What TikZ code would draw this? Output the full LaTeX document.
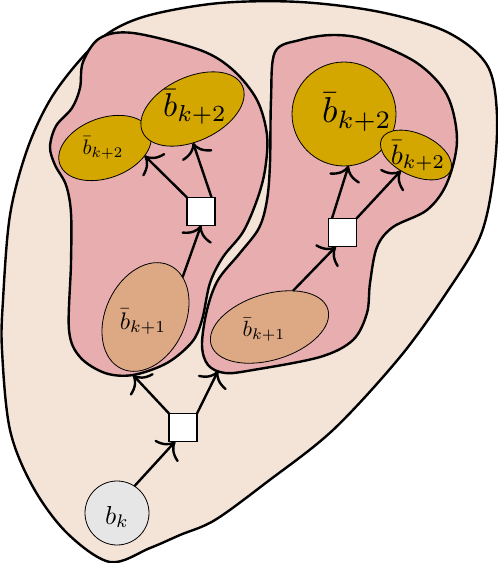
\documentclass[tikz,border=0pt]{standalone}
\usepackage{tikz}
\usetikzlibrary{arrows.meta,shapes.geometric}
\definecolor{outerbg}{HTML}{F4E3D7}
\definecolor{pinkbg}{HTML}{E8AEAF}
\definecolor{goldbg}{HTML}{D4A600}
\definecolor{orangebg}{HTML}{DDA884}
\definecolor{greybg}{HTML}{E6E6E6}
\tikzset{
  region/.style={draw,line width=2.4pt,line join=round},
  belief/.style={draw,ellipse,line width=0.8pt,inner sep=0pt,outer sep=0pt},
  factor/.style={draw,rectangle,fill=white,line width=1.6pt,minimum size=28,inner sep=0pt,outer sep=0pt},
  lab/.style={scale=#1/10,inner sep=0pt},
  arr/.style={line width=2.4pt,-{Computer Modern Rightarrow[length=14pt,width=32pt]}},
}
\begin{document}
\begin{tikzpicture}[x=1pt,y=-1pt]
\useasboundingbox (0,0) rectangle (498,563);
\draw[region,fill=outerbg] plot[smooth cycle,tension=0.55] coordinates {(110,32) (150,15) (220,3) (300,2) (380,12) (447,32) (487,65) (497,115) (493,180) (480,237) (447,292) (400,357) (333,430) (267,482) (215,520) (180,535) (150,548) (110,562) (67,533) (33,487) (10,430) (2,350) (3,300) (10,215) (27,150) (50,100) (80,60)};
\draw[region,fill=pinkbg] plot[smooth cycle,tension=0.55] coordinates {(100,38) (133,33) (200,50) (233,70) (257,100) (267,135) (265,170) (257,200) (243,232) (223,257) (210,283) (202,320) (192,342) (167,363) (133,375) (105,373) (80,357) (69,330) (71,263) (71,213) (66,185) (55,165) (50,147) (56,126) (72,108) (80,88) (83,62)};
\draw[region,fill=pinkbg] plot[smooth cycle,tension=0.55] coordinates {(275,52) (300,40) (333,35) (367,40) (417,63) (447,95) (457,140) (447,183) (427,210) (393,227) (377,247) (370,283) (367,313) (353,340) (320,357) (253,370) (225,373) (208,365) (202,345) (207,310) (218,280) (240,253) (259,228) (267,200) (270,163) (271,100)};
\coordinate (inL) at (133,375);
\coordinate (inR) at (218,371);
\node[belief,fill=goldbg,rotate=20,minimum width=96,minimum height=60] (gL2) at (105,148) {};
\node[belief,fill=goldbg,rotate=25,minimum width=110,minimum height=64] (gL1) at (192.5,109) {};
\node[belief,circle,fill=goldbg,minimum size=104] (gR1) at (344,114) {};
\node[belief,fill=goldbg,rotate=-25,minimum width=76,minimum height=42] (gR2) at (416,155) {};
\node[belief,fill=orangebg,rotate=65,minimum width=114,minimum height=80] (oL) at (145.5,317) {};
\node[belief,fill=orangebg,rotate=17,minimum width=122,minimum height=66] (oR) at (269.5,327) {};
\node[belief,circle,fill=greybg,minimum size=64] (bk) at (117,513) {};
\node[lab=21] (tL2) at (103,148) {$\bar{b}_{k+2}$};
\node[lab=33] (tL1) at (195,107) {$\bar{b}_{k+2}$};
\node[lab=36] (tR1) at (357,112) {$\bar{b}_{k+2}$};
\node[lab=28] (tR2) at (418,156) {$\bar{b}_{k+2}$};
\node[lab=24] (tOL) at (143,322) {$\bar{b}_{k+1}$};
\node[lab=22] (tOR) at (264,330) {$\bar{b}_{k+1}$};
\node[lab=26] (tbk) at (117,517) {$b_k$};
\node[factor] (sq0) at (183,427.5) {};
\node[factor] (sqL) at (201,211.5) {};
\node[factor] (sqR) at (342.5,232.5) {};
\draw[arr] (bk.57) -- (sq0.-119);
\draw[arr] (sq0.north west) -- (inL);
\draw[arr] (sq0.north east) -- (inR);
\draw[arr] (oL.-18) -- (sqL.south);
\draw[arr] (sqL.north west) -- (gL2.-31);
\draw[arr] (sqL.53) -- (gL1.-114);
\draw[arr] (oR.40) -- (sqR.-115);
\draw[arr] (sqR.127) -- (gR1.-85);
\draw[arr] (sqR.north east) -- (gR2.-109);
\end{tikzpicture}
\end{document}
